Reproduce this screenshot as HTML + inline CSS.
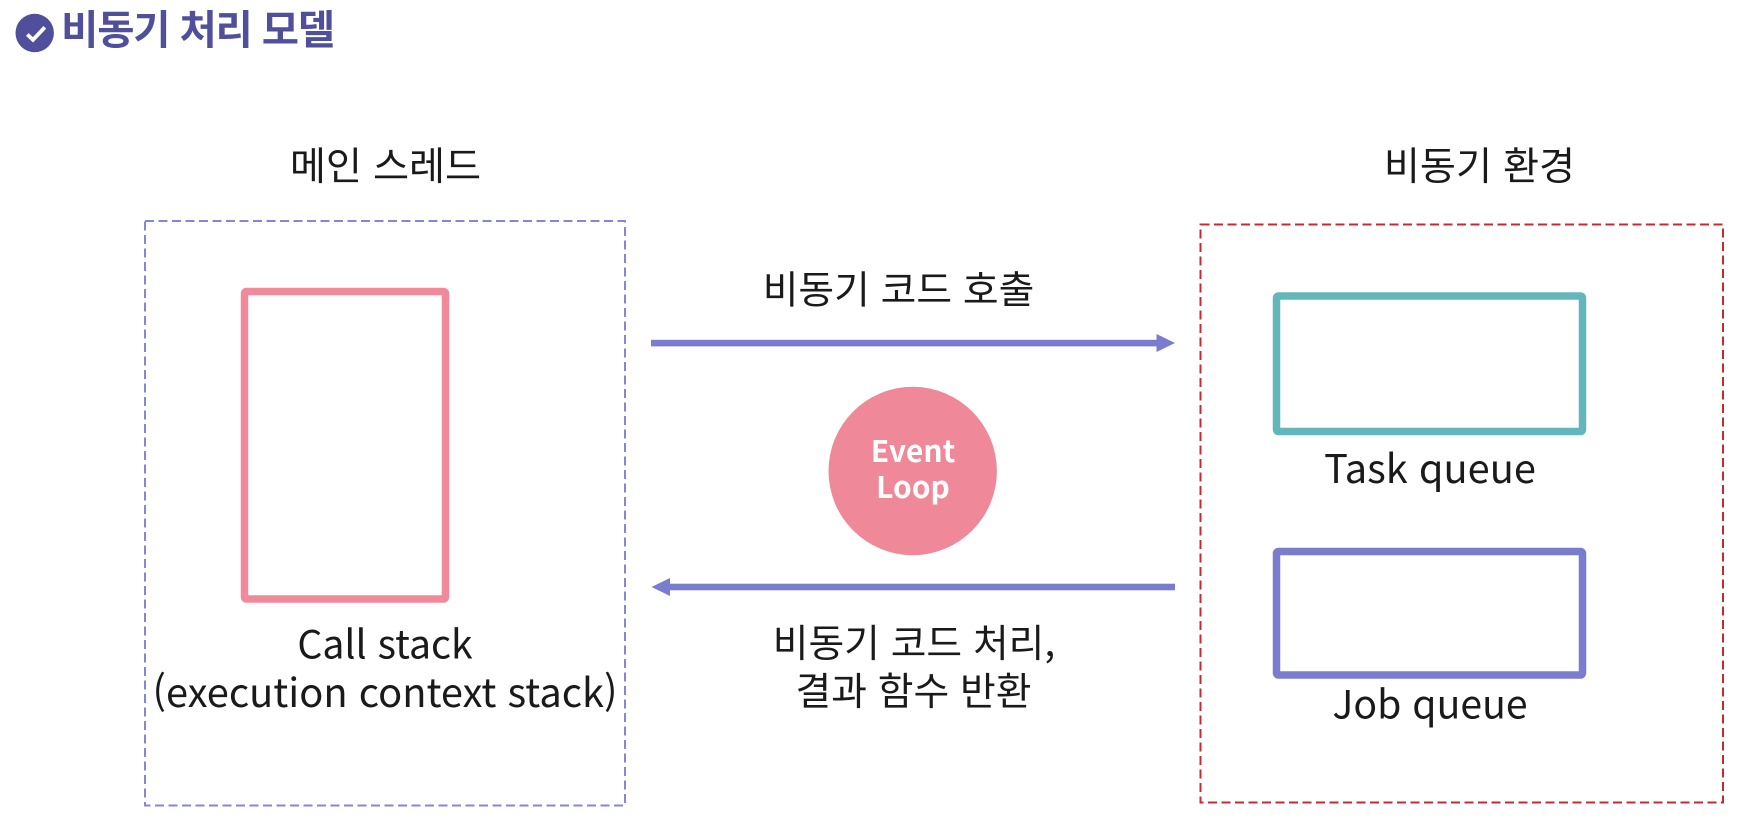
<!DOCTYPE html>
<html lang="ko">
<head>
<meta charset="utf-8">
<title>비동기 처리 모델</title>
<style>
html,body{margin:0;padding:0;background:#fff;width:1748px;height:822px;overflow:hidden}
svg{display:block}
text{font-family:"Liberation Sans","Noto Sans CJK KR",sans-serif}
.k{font-family:"Noto Sans CJK KR","Liberation Sans",sans-serif;fill:#1a1a1a;font-size:39.2px;text-anchor:middle}
.m{font-size:38.8px}
.l{font-size:39.8px}
.j{font-size:39.2px}
</style>
</head>
<body>
<svg width="1748" height="822" viewBox="0 0 1748 822" xmlns="http://www.w3.org/2000/svg">
<rect width="1748" height="822" fill="#fff"/>
<circle cx="34.7" cy="33" r="19.2" fill="#4f4f9c"/>
<path d="M27.3 34.5 L33 39.8 L44.8 27.3" fill="none" stroke="#fff" stroke-width="3.8"/>
<text class="k" x="197.5" y="44" style="fill:#4f4f9c;font-size:40.5px;font-weight:700;letter-spacing:-1.2px">비동기 처리 모델</text>

<text class="k" x="385.5" y="180">메인 스레드</text>
<text class="k" x="1479.5" y="180">비동기 환경</text>

<rect x="145" y="221" width="480" height="584.5" fill="none" stroke="#8585d9" stroke-width="2" stroke-dasharray="9 4.5"/>
<rect x="1200.5" y="224.5" width="522.5" height="578" fill="none" stroke="#c22b30" stroke-width="2" stroke-dasharray="9 4.5"/>

<rect x="244.5" y="291.5" width="201" height="307.5" rx="2" fill="#fff" stroke="#f08a9b" stroke-width="7.5"/>
<rect x="1276.5" y="296" width="306" height="135.5" rx="2" fill="#fff" stroke="#63b7bb" stroke-width="7.5"/>
<rect x="1276.5" y="551.5" width="306" height="123.5" rx="2" fill="#fff" stroke="#7a7dce" stroke-width="7.5"/>

<rect x="651" y="339.8" width="507" height="6.6" fill="#7a7dce"/>
<polygon points="1156.5,334 1175,343 1156.5,352" fill="#7a7dce"/>
<rect x="669" y="583.7" width="506" height="6.6" fill="#7a7dce"/>
<polygon points="670,578 651.5,587 670,596" fill="#7a7dce"/>

<circle cx="912.7" cy="471" r="84.2" fill="#ef8899"/>
<text x="913" y="462" text-anchor="middle" style="font-family:'Noto Sans CJK KR','Liberation Sans',sans-serif;font-size:30px;font-weight:700;fill:#fff">Event</text>
<text x="913" y="498" text-anchor="middle" style="font-family:'Noto Sans CJK KR','Liberation Sans',sans-serif;font-size:30px;font-weight:700;fill:#fff">Loop</text>

<text class="k m" x="898.5" y="303.5">비동기 코드 호출</text>
<text class="k m" x="914" y="657">비동기 코드 처리,</text>
<text class="k m" x="913.5" y="705">결과 함수 반환</text>

<text class="k j" x="385" y="658.5">Call stack</text>
<text class="k l" x="385" y="707">(execution context stack)</text>
<text class="k l" x="1430" y="483">Task queue</text>
<text class="k j" x="1430" y="718.5">Job queue</text>
</svg>
</body>
</html>
